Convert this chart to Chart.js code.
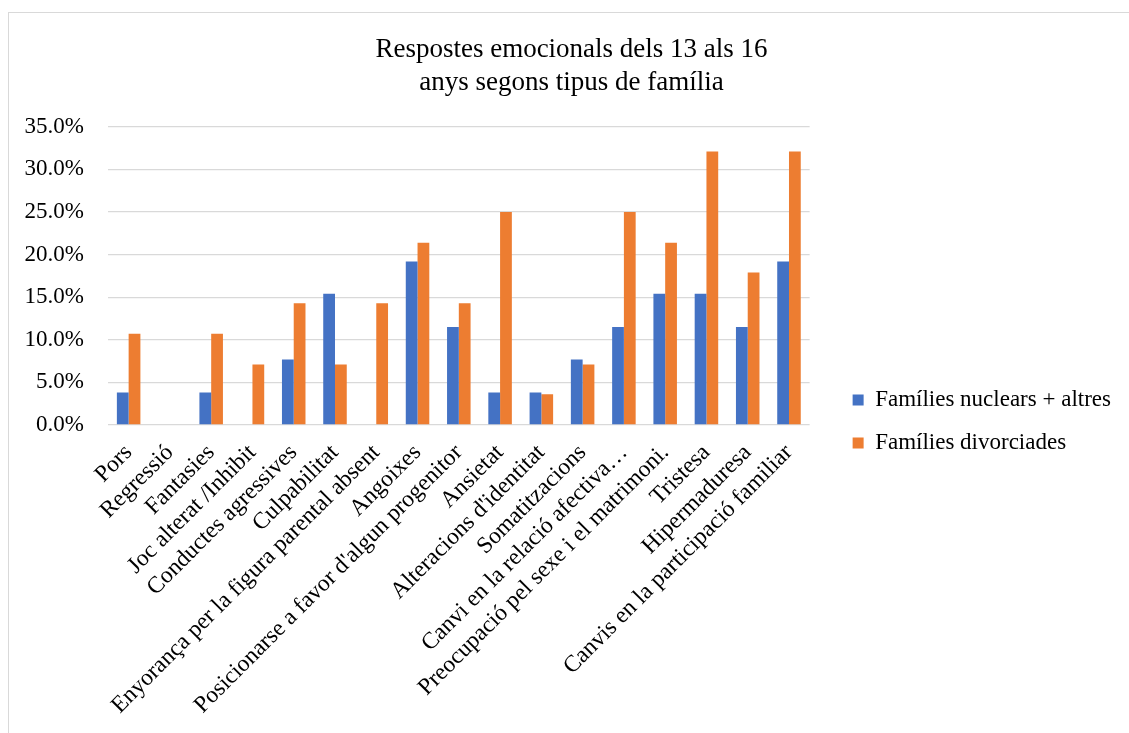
<!DOCTYPE html>
<html>
<head>
<meta charset="utf-8">
<script src="https://cdn.jsdelivr.net/npm/chart.js@4/dist/chart.umd.min.js"></script>
<style>
  html, body { margin: 0; padding: 0; background: #fff; }
  #frame { position: absolute; left: 8px; top: 12px; width: 1300px; height: 900px;
           border-left: 1px solid #d9d9d9; border-top: 1px solid #d9d9d9; }
  #wrap { position: absolute; left: 0; top: 0; width: 1129px; height: 733px; }
</style>
</head>
<body>
<div id="frame"></div>
<div id="wrap"><canvas id="chart"></canvas></div>
<script>
// Respostes emocionals (13-16 anys), % per tipus de família
const categories = [
    'Pors', 'Regressió', 'Fantasies', 'Joc alterat /Inhibit', 'Conductes agressives',
    'Culpabilitat', 'Enyorança per la figura parental absent', 'Angoixes',
    "Posicionarse a favor d'algun progenitor", 'Ansietat', "Alteracions d'identitat",
    'Somatitzacions', 'Canvi en la relació afectiva…', 'Preocupació pel sexe i el matrimoni.',
    'Tristesa', 'Hipermaduresa', 'Canvis en la participació familiar'
];
const seriesNames = ['Famílies nuclears + altres', 'Famílies divorciades'];
const nuclears = [3.8, 0, 3.8, 0, 7.7, 15.4, 0, 19.2, 11.5, 3.8, 3.8, 7.7, 11.5, 15.4, 15.4, 11.5, 19.2];
const divorciades = [10.7, 0, 10.7, 7.1, 14.3, 7.1, 14.3, 21.4, 14.3, 25.0, 3.6, 7.1, 25.0, 21.4, 32.1, 17.9, 32.1];
const titleLines = ['Respostes emocionals dels 13 als 16', 'anys segons tipus de família'];

const serif = "'Liberation Serif', 'Times New Roman', serif";

const ctx = document.getElementById('chart').getContext('2d');
new Chart(ctx, {
    type: 'bar',
    data: {
        labels: categories,
        datasets: [{
            label: seriesNames[0],
            data: nuclears,
            backgroundColor: '#4472C4',
            categoryPercentage: 0.57,
            barPercentage: 1.0
        }, {
            label: seriesNames[1],
            data: divorciades,
            backgroundColor: '#ED7D31',
            categoryPercentage: 0.57,
            barPercentage: 1.0
        }]
    },
    options: {
        responsive: true,
        maintainAspectRatio: false,
        animation: false,
        layout: { padding: { left: 22, right: 8, top: 0, bottom: -110 } },
        scales: {
            x: {
                grid: { display: false },
                border: { display: false },
                ticks: {
                    autoSkip: false,
                    maxRotation: 45,
                    minRotation: 45,
                    padding: 6,
                    color: '#000',
                    font: { family: serif, size: 23.5 }
                },
                afterFit: function(scale) { scale.height = 418; }
            },
            y: {
                min: 0,
                max: 35,
                ticks: {
                    stepSize: 5,
                    padding: 24,
                    color: '#000',
                    font: { family: serif, size: 23 },
                    callback: function(v) { return v.toFixed(1) + '%'; }
                },
                grid: { color: '#d9d9d9', lineWidth: 1.3, drawTicks: false },
                border: { display: false },
                afterFit: function(scale) { scale.width = 86; }
            },
            // spacer between plot and legend
            gap: {
                position: 'right',
                grid: { display: false },
                border: { display: false },
                ticks: { display: false },
                afterFit: function(scale) { scale.width = 23; }
            }
        },
        plugins: {
            title: {
                display: true,
                text: titleLines,
                color: '#000',
                font: { family: serif, size: 27, weight: 'normal', lineHeight: 1.2 },
                padding: { top: 34, bottom: 28 }
            },
            legend: {
                position: 'right',
                align: 'center',
                maxWidth: 340,
                labels: {
                    boxWidth: 11,
                    boxHeight: 11,
                    padding: 20,
                    color: '#000',
                    font: { family: serif, size: 23 }
                }
            },
            tooltip: { enabled: false }
        }
    }
});
</script>
</body>
</html>
